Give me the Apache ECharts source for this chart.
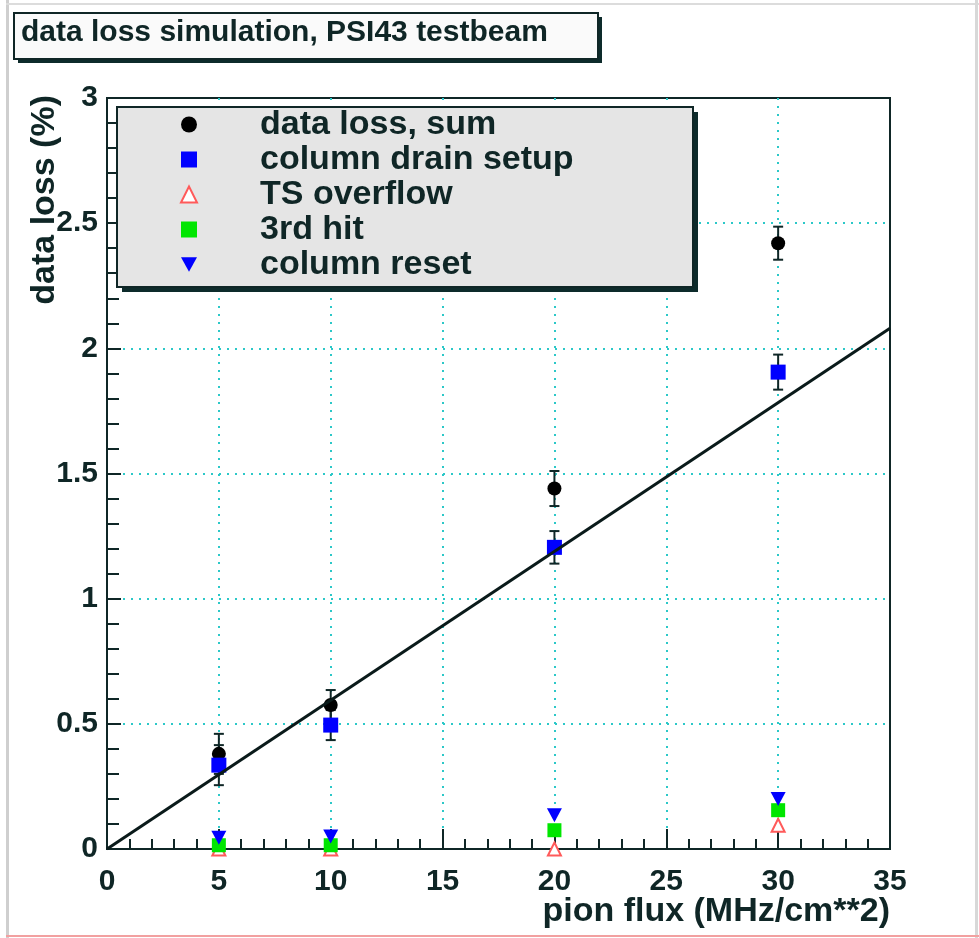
<!DOCTYPE html>
<html>
<head>
<meta charset="utf-8">
<script src="https://cdn.jsdelivr.net/npm/echarts@6/dist/echarts.min.js"></script>
<style>html,body{margin:0;padding:0;background:#fff}#c{width:979px;height:938px}</style>
</head>
<body>
<div id="c"></div>
<script>
// ---- data ----
const titleText = 'data loss simulation, PSI43 testbeam';
const xAxisTitle = 'pion flux (MHz/cm**2)';
const yAxisTitle = 'data loss (%)';
const seriesNames = ['data loss, sum', 'column drain setup', 'TS overflow', '3rd hit', 'column reset'];
const fluxValues = [5, 10, 20, 30];
const sumLoss = [0.38, 0.575, 1.44, 2.42];
const sumErr = [0.08, 0.06, 0.07, 0.066];
const drainLoss = [0.335, 0.495, 1.205, 1.905];
const drainErr = [0.08, 0.06, 0.065, 0.07];
const tsOverflow = [0.0, 0.0, 0.0, 0.095];
const thirdHit = [0.015, 0.015, 0.075, 0.155];
const columnReset = [0.045, 0.05, 0.135, 0.2];
const fitX = [0, 35];
const fitY = [0.0, 2.08];

const FONT = 'Liberation Sans';
const INK = '#0f2626';

const pts = (ys) => fluxValues.map((x, i) => [x, ys[i]]);
const errData = (ys, es) => fluxValues.map((x, i) => [x, ys[i] - es[i], ys[i] + es[i]]);

function errBar(params, api) {
  const x = api.value(0);
  const lo = api.coord([x, api.value(1)]);
  const hi = api.coord([x, api.value(2)]);
  const w = 5;
  const st = { stroke: INK, lineWidth: 2 };
  return {
    type: 'group',
    children: [
      { type: 'line', shape: { x1: lo[0], y1: lo[1], x2: hi[0], y2: hi[1] }, style: st },
      { type: 'line', shape: { x1: lo[0] - w, y1: lo[1], x2: lo[0] + w, y2: lo[1] }, style: st },
      { type: 'line', shape: { x1: hi[0] - w, y1: hi[1], x2: hi[0] + w, y2: hi[1] }, style: st }
    ]
  };
}

const downTri = 'path://M0,0 L10,0 L5,9 Z';
const gridLine = { show: true, showMinLine: false, showMaxLine: false, lineStyle: { color: '#2cc8c8', type: [2, 6], width: 2 } };

const chart = echarts.init(document.getElementById('c'), null, { renderer: 'canvas' });
chart.setOption({
  backgroundColor: '#ffffff',
  animation: false,
  textStyle: { fontFamily: FONT },
  title: {
    text: titleText,
    left: 21, top: 18, padding: 0, z: 30,
    textStyle: { fontFamily: FONT, fontSize: 30, fontWeight: 'bold', color: INK, lineHeight: 30 }
  },
  graphic: [
    { type: 'rect', z: 0, shape: { x: 6, y: 0, width: 3, height: 938 }, style: { fill: '#cfcfcf' } },
    { type: 'rect', z: 0, shape: { x: 6, y: 3, width: 973, height: 2 }, style: { fill: '#dcdcdc' } },
    { type: 'rect', z: 0, shape: { x: 975, y: 0, width: 3, height: 938 }, style: { fill: '#d8d8d8' } },
    { type: 'rect', z: 0, shape: { x: 6, y: 935, width: 973, height: 2 }, style: { fill: '#f2a0a0' } },
    { type: 'rect', z: 10, shape: { x: 18, y: 17, width: 584, height: 46 }, style: { fill: '#0d2b2b' } },
    { type: 'rect', z: 11, shape: { x: 14, y: 13, width: 584, height: 46 }, style: { fill: '#fafafa', stroke: INK, lineWidth: 2 } },
    { type: 'rect', z: 10, shape: { x: 122, y: 112, width: 576, height: 180 }, style: { fill: '#0d2b2b' } },
    { type: 'rect', z: 11, shape: { x: 117, y: 107, width: 576, height: 180 }, style: { fill: '#e5e5e5', stroke: INK, lineWidth: 2 } }
  ],
  legend: {
    data: seriesNames,
    orient: 'vertical',
    left: 180, top: 107,
    padding: 0,
    itemGap: 0,
    itemWidth: 16, itemHeight: 16,
    z: 20,
    textStyle: { fontFamily: FONT, fontSize: 34, fontWeight: 'bold', color: INK, lineHeight: 35, padding: [0, 0, 0, 58] }
  },
  grid: {
    left: 107, right: 89, top: 98, bottom: 89,
    containLabel: false, outerBoundsMode: 'none',
    show: true, borderColor: INK, borderWidth: 2, backgroundColor: 'transparent'
  },
  xAxis: {
    type: 'value', min: 0, max: 35, interval: 5,
    name: xAxisTitle, nameLocation: 'end', nameGap: 0, nameMoveOverlap: false,
    nameTextStyle: { fontFamily: FONT, fontSize: 34, fontWeight: 'bold', color: INK, align: 'right', verticalAlign: 'top', padding: [46, 0, 0, 0] },
    axisLine: { show: true, onZero: false, lineStyle: { color: INK, width: 2 } },
    axisTick: { show: true, inside: true, length: 20, lineStyle: { color: INK, width: 2 } },
    minorTick: { show: true, splitNumber: 5, length: 10, lineStyle: { color: INK, width: 2 } },
    axisLabel: { fontFamily: FONT, fontSize: 30, fontWeight: 'bold', color: INK, margin: 18 },
    splitLine: gridLine
  },
  yAxis: {
    type: 'value', min: 0, max: 3, interval: 0.5,
    name: yAxisTitle, nameLocation: 'end', nameGap: 3, nameRotate: 90, nameMoveOverlap: false,
    nameTextStyle: { fontFamily: FONT, fontSize: 34, fontWeight: 'bold', color: INK, align: 'right', verticalAlign: 'bottom', padding: [0, 0, 45, 0] },
    axisLine: { show: true, onZero: false, lineStyle: { color: INK, width: 2 } },
    axisTick: { show: true, inside: true, length: 14, lineStyle: { color: INK, width: 2 } },
    minorTick: { show: true, splitNumber: 5, length: 12, lineStyle: { color: INK, width: 2 } },
    axisLabel: { fontFamily: FONT, fontSize: 30, fontWeight: 'bold', color: INK, margin: 9 },
    splitLine: gridLine
  },
  series: [
    { type: 'custom', name: 'errSum', data: errData(sumLoss, sumErr), renderItem: errBar, z: 3, clip: false },
    { type: 'custom', name: 'errDrain', data: errData(drainLoss, drainErr), renderItem: errBar, z: 3, clip: false },
    { type: 'scatter', name: seriesNames[0], data: pts(sumLoss), symbol: 'circle', symbolSize: 14, itemStyle: { color: '#000000', opacity: 1 }, z: 4, clip: false },
    { type: 'scatter', name: seriesNames[1], data: pts(drainLoss), symbol: 'rect', symbolSize: 15, itemStyle: { color: '#0000ff', opacity: 1 }, z: 5, clip: false },
    { type: 'scatter', name: seriesNames[2], data: pts(tsOverflow), symbol: 'triangle', symbolSize: 13, itemStyle: { color: '#ffffff', borderColor: '#ff5a5a', borderWidth: 2, opacity: 1 }, z: 6, clip: false },
    { type: 'scatter', name: seriesNames[3], data: pts(thirdHit), symbol: 'rect', symbolSize: 14, itemStyle: { color: '#00e600', opacity: 1 }, z: 7, clip: false },
    { type: 'scatter', name: seriesNames[4], data: pts(columnReset), symbol: downTri, symbolSize: [15, 14], itemStyle: { color: '#0000ff', opacity: 1 }, z: 8, clip: false },
    { type: 'line', name: 'fit', data: fitX.map((x, i) => [x, fitY[i]]), showSymbol: false, symbol: 'none', lineStyle: { color: '#0a1a1a', width: 3 }, z: 9, silent: true }
  ]
});
</script>
</body>
</html>
